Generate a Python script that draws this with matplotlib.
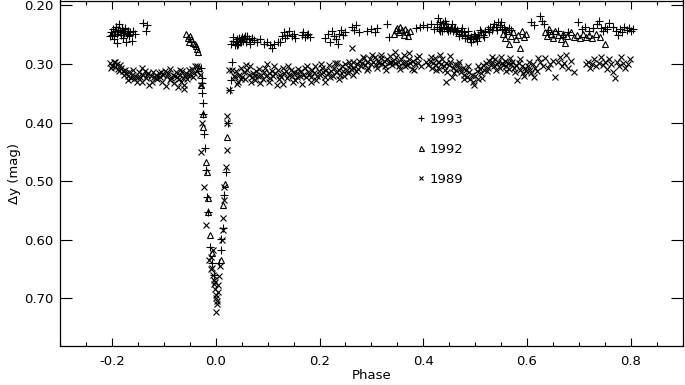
import matplotlib
matplotlib.use("Agg")
import matplotlib.pyplot as plt
from matplotlib.ticker import MultipleLocator, FormatStrFormatter

# ---------------- data ----------------
# 1993 (+)
phase_1993 = [
    -0.205, -0.202, -0.199, -0.197, -0.195, -0.193, -0.191, -0.189, -0.187, -0.185,
    -0.183, -0.181, -0.179, -0.177, -0.175, -0.173, -0.171, -0.169, -0.167, -0.165,
    -0.162, -0.159, -0.156, -0.196, -0.180, -0.141, -0.132, -0.134,
    -0.200, -0.192, -0.184, -0.176, -0.168, -0.190,
    -0.028, -0.027, -0.027, -0.026, -0.025, -0.024, -0.022, -0.021, -0.019, -0.017,
    -0.015, -0.011, -0.007, -0.004,
    0.031, 0.029, 0.027, 0.024, 0.019, 0.016, 0.013, 0.010, 0.009, 0.006,
    0.030, 0.034, 0.036, 0.038, 0.040, 0.042, 0.044, 0.046, 0.048, 0.050,
    0.052, 0.055, 0.058, 0.060, 0.063, 0.066, 0.070, 0.074,
    0.033, 0.041, 0.049, 0.057, 0.065,
    0.080, 0.086, 0.092, 0.098, 0.104, 0.108, 0.112, 0.119, 0.124, 0.128,
    0.131, 0.134, 0.138, 0.142, 0.146, 0.150, 0.153,
    0.166, 0.169, 0.172, 0.175, 0.178, 0.182, 0.210, 0.216, 0.220, 0.224,
    0.228, 0.232, 0.235, 0.238, 0.241, 0.245, 0.249, 0.262, 0.266, 0.270,
    0.276, 0.292, 0.300, 0.306, 0.310, 0.331, 0.333,
    0.386, 0.393, 0.400, 0.407, 0.414, 0.420,
    0.426, 0.428, 0.430, 0.432, 0.434, 0.436, 0.438, 0.440, 0.443, 0.446,
    0.448, 0.451, 0.454, 0.457, 0.460, 0.463, 0.466, 0.469, 0.472, 0.475,
    0.478, 0.481, 0.484, 0.487, 0.490, 0.493, 0.496, 0.499, 0.502, 0.505,
    0.508, 0.512, 0.516, 0.520, 0.524, 0.528, 0.532, 0.536, 0.540, 0.544,
    0.548, 0.552, 0.556, 0.560, 0.565, 0.570,
    0.427, 0.433, 0.441, 0.447, 0.455, 0.462, 0.468, 0.474, 0.480, 0.486,
    0.492, 0.498, 0.504, 0.510, 0.518, 0.526, 0.534, 0.542, 0.550, 0.558,
    0.608, 0.614, 0.626, 0.629, 0.632,
    0.640, 0.650, 0.660, 0.670, 0.680, 0.699, 0.706, 0.712, 0.720, 0.728,
    0.735, 0.738, 0.742, 0.746, 0.750, 0.754, 0.758, 0.766, 0.772, 0.776,
    0.780, 0.784, 0.788, 0.792, 0.796, 0.800, 0.804,
]
dy_1993 = [
    0.252, 0.246, 0.240, 0.252, 0.244, 0.236, 0.248, 0.242, 0.231, 0.245,
    0.250, 0.238, 0.244, 0.247, 0.241, 0.262, 0.249, 0.243, 0.252, 0.246,
    0.260, 0.244, 0.248, 0.258, 0.256, 0.230, 0.234, 0.243,
    0.250, 0.236, 0.246, 0.238, 0.250, 0.264,
    0.307, 0.323, 0.333, 0.350, 0.367, 0.385, 0.420, 0.444, 0.481, 0.527,
    0.552, 0.612, 0.640, 0.660,
    0.297, 0.328, 0.345, 0.400, 0.485, 0.524, 0.580, 0.618, 0.598, 0.640,
    0.266, 0.260, 0.268, 0.262, 0.258, 0.265, 0.256, 0.262, 0.258, 0.254,
    0.260, 0.256, 0.262, 0.252, 0.258, 0.262, 0.255, 0.259,
    0.254, 0.268, 0.262, 0.252, 0.266,
    0.262, 0.258, 0.265, 0.262, 0.268, 0.272, 0.266, 0.263, 0.262, 0.252,
    0.246, 0.256, 0.250, 0.244, 0.252, 0.248, 0.256,
    0.250, 0.246, 0.254, 0.250, 0.248, 0.254, 0.255, 0.248, 0.262, 0.244,
    0.252, 0.258, 0.266, 0.248, 0.242, 0.250, 0.246, 0.236, 0.242, 0.234,
    0.246, 0.244, 0.240, 0.246, 0.238, 0.232, 0.254,
    0.238, 0.236, 0.233, 0.236, 0.232, 0.240,
    0.232, 0.222, 0.240, 0.228, 0.236, 0.244, 0.230, 0.238, 0.232, 0.240,
    0.236, 0.242, 0.238, 0.244, 0.240, 0.246, 0.242, 0.248, 0.244, 0.250,
    0.246, 0.252, 0.256, 0.250, 0.258, 0.254, 0.258, 0.252, 0.256, 0.250,
    0.254, 0.246, 0.250, 0.244, 0.240, 0.236, 0.242, 0.232, 0.236, 0.228,
    0.234, 0.240, 0.236, 0.246, 0.238, 0.242,
    0.236, 0.244, 0.226, 0.244, 0.232, 0.238, 0.252, 0.238, 0.256, 0.244,
    0.262, 0.248, 0.260, 0.242, 0.254, 0.246, 0.236, 0.242, 0.228, 0.242,
    0.229, 0.233, 0.218, 0.226, 0.232,
    0.242, 0.248, 0.244, 0.250, 0.246, 0.229, 0.240, 0.236, 0.244, 0.238,
    0.232, 0.226, 0.238, 0.244, 0.236, 0.240, 0.230, 0.236, 0.244, 0.250,
    0.240, 0.246, 0.236, 0.242, 0.238, 0.244, 0.240,
]

# 1992 (triangles)
phase_1992 = [
    -0.057, -0.054, -0.051, -0.049, -0.047, -0.044, -0.041, -0.039, -0.036, -0.034,
    -0.032, -0.028, -0.025, -0.024, -0.019, -0.018, -0.016, -0.016, -0.011, -0.008,
    0.022, 0.014, 0.010, 0.018,
    0.343, 0.347, 0.350, 0.353, 0.356, 0.359, 0.362, 0.365, 0.368, 0.371, 0.374,
    0.553, 0.558, 0.562, 0.566, 0.570, 0.574, 0.578, 0.582, 0.586, 0.590, 0.594, 0.598,
    0.634, 0.638, 0.642, 0.646, 0.650, 0.655, 0.660, 0.665, 0.670, 0.673,
    0.678, 0.684, 0.690, 0.696, 0.702, 0.708, 0.714, 0.720, 0.726, 0.733,
    0.740, 0.750,
]
dy_1992 = [
    0.248, 0.256, 0.262, 0.252, 0.258, 0.264, 0.266, 0.270, 0.274, 0.280,
    0.306, 0.336, 0.386, 0.408, 0.468, 0.484, 0.529, 0.553, 0.592, 0.623,
    0.425, 0.541, 0.635, 0.505,
    0.248, 0.242, 0.238, 0.246, 0.236, 0.242, 0.250, 0.240, 0.246, 0.252, 0.244,
    0.248, 0.256, 0.244, 0.266, 0.252, 0.246, 0.258, 0.250, 0.272, 0.244, 0.254, 0.248,
    0.246, 0.252, 0.240, 0.248, 0.256, 0.244, 0.250, 0.258, 0.248, 0.264,
    0.252, 0.246, 0.254, 0.250, 0.256, 0.248, 0.254, 0.250, 0.256, 0.248,
    0.254, 0.266,
]

# 1989 (x)
phase_1989 = [
    -0.204, -0.200, -0.197, -0.194, -0.191, -0.188, -0.185, -0.182, -0.179, -0.176,
    -0.173, -0.170, -0.167, -0.164, -0.161, -0.158, -0.155, -0.152, -0.149, -0.146,
    -0.143, -0.140, -0.137, -0.134, -0.131, -0.128, -0.125, -0.122, -0.119, -0.116,
    -0.113, -0.110, -0.107, -0.104, -0.101, -0.098, -0.095, -0.092, -0.089, -0.086,
    -0.083, -0.080, -0.077, -0.075, -0.073, -0.071, -0.069, -0.067, -0.065, -0.063,
    -0.061, -0.059, -0.057, -0.055, -0.052, -0.049, -0.046, -0.043, -0.040, -0.037,
    -0.203, -0.195, -0.186, -0.178, -0.169, -0.160, -0.151, -0.142, -0.133, -0.124,
    -0.115, -0.106, -0.097, -0.088, -0.079, -0.070, -0.062, -0.054, -0.045, -0.036,
    -0.030, -0.028, -0.026, -0.028, -0.022, -0.019, -0.013, -0.010, -0.009, -0.007,
    -0.006, -0.004, -0.003, -0.002, 0.000, 0.001, 0.002, 0.001, -0.005, -0.001,
    0.026, 0.026, 0.022, 0.022, 0.022, 0.020, 0.016, 0.015, 0.013, 0.013,
    0.011, 0.008, 0.006, 0.005, 0.004, 0.003, 0.032, 0.035,
    0.036, 0.039, 0.042, 0.045, 0.048, 0.051, 0.054, 0.057, 0.060, 0.063,
    0.066, 0.069, 0.072, 0.075, 0.078, 0.081, 0.084, 0.087, 0.090, 0.093,
    0.096, 0.099, 0.102, 0.105, 0.108, 0.111, 0.114, 0.117, 0.120, 0.123,
    0.126, 0.129, 0.132, 0.135, 0.138, 0.141, 0.144, 0.147, 0.150, 0.153,
    0.156, 0.159, 0.162, 0.165, 0.168, 0.171, 0.174, 0.177, 0.180, 0.183,
    0.186, 0.189, 0.192, 0.195, 0.198, 0.201, 0.204, 0.207, 0.210, 0.213,
    0.216, 0.219, 0.222, 0.225, 0.228, 0.231, 0.234, 0.237, 0.240, 0.243,
    0.246, 0.249, 0.252, 0.255, 0.258, 0.263, 0.261, 0.264, 0.267, 0.270,
    0.273, 0.276, 0.279, 0.282, 0.285, 0.288, 0.291, 0.294, 0.297, 0.300,
    0.303, 0.306, 0.309, 0.312, 0.315, 0.318, 0.321, 0.324, 0.327, 0.330,
    0.333, 0.336, 0.339, 0.342, 0.345, 0.348, 0.351, 0.354, 0.357, 0.360,
    0.363, 0.366, 0.369, 0.372, 0.375, 0.378, 0.381, 0.384, 0.387, 0.390,
    0.395, 0.405, 0.410, 0.413, 0.416, 0.419, 0.422, 0.425, 0.428, 0.431,
    0.434, 0.437, 0.440, 0.443, 0.446, 0.449, 0.452, 0.455, 0.458, 0.461,
    0.464, 0.467, 0.470, 0.473, 0.476, 0.479, 0.482, 0.485, 0.488, 0.491,
    0.494, 0.497, 0.500, 0.503, 0.506, 0.509, 0.512, 0.515, 0.518, 0.521,
    0.524, 0.527, 0.530, 0.533, 0.536, 0.539, 0.542, 0.545, 0.548, 0.551,
    0.554, 0.557, 0.560, 0.563, 0.566, 0.569, 0.572, 0.575, 0.578, 0.581,
    0.584, 0.587, 0.590, 0.593, 0.596, 0.599, 0.602, 0.605, 0.608, 0.612,
    0.616, 0.620, 0.625, 0.630, 0.635, 0.640, 0.645, 0.650, 0.655, 0.660,
    0.664, 0.668, 0.672, 0.676, 0.680, 0.685, 0.690, 0.444,
    0.040, 0.049, 0.058, 0.067, 0.076, 0.085, 0.094, 0.103, 0.112, 0.121,
    0.130, 0.139, 0.148, 0.157, 0.166, 0.175, 0.184, 0.193, 0.202, 0.211,
    0.220, 0.229, 0.238, 0.247, 0.256, 0.265, 0.274, 0.283, 0.292, 0.301,
    0.310, 0.319, 0.328, 0.337, 0.346, 0.355, 0.364, 0.373, 0.382, 0.391,
    0.415, 0.424, 0.433, 0.442, 0.451, 0.460, 0.469, 0.478, 0.487, 0.496,
    0.505, 0.514, 0.523, 0.532, 0.541, 0.550, 0.559, 0.568, 0.577, 0.586,
    0.595, 0.604, 0.613, 0.622,
    0.714, 0.718, 0.722, 0.726, 0.730, 0.734, 0.738, 0.742, 0.746, 0.750,
    0.754, 0.758, 0.762, 0.766, 0.770, 0.774, 0.778, 0.782, 0.786, 0.790,
    0.794, 0.798,
]
dy_1989 = [
    0.298, 0.303, 0.296, 0.305, 0.300, 0.308, 0.302, 0.306, 0.312, 0.310,
    0.316, 0.320, 0.314, 0.324, 0.318, 0.326, 0.320, 0.330, 0.314, 0.322,
    0.306, 0.318, 0.312, 0.324, 0.316, 0.336, 0.320, 0.314, 0.322, 0.318,
    0.326, 0.316, 0.322, 0.330, 0.318, 0.312, 0.320, 0.316, 0.308, 0.324,
    0.318, 0.332, 0.314, 0.322, 0.340, 0.326, 0.318, 0.330, 0.312, 0.324,
    0.336, 0.320, 0.316, 0.326, 0.310, 0.318, 0.308, 0.316, 0.304, 0.312,
    0.306, 0.297, 0.312, 0.318, 0.328, 0.310, 0.322, 0.330, 0.318, 0.330,
    0.324, 0.314, 0.338, 0.328, 0.320, 0.310, 0.342, 0.318, 0.322, 0.304,
    0.318, 0.335, 0.401, 0.451, 0.510, 0.575, 0.635, 0.630, 0.650, 0.648,
    0.660, 0.668, 0.676, 0.685, 0.695, 0.700, 0.710, 0.723, 0.618, 0.672,
    0.311, 0.345, 0.388, 0.401, 0.447, 0.476, 0.510, 0.532, 0.563, 0.583,
    0.600, 0.645, 0.662, 0.678, 0.690, 0.705, 0.311, 0.320,
    0.322, 0.312, 0.330, 0.318, 0.306, 0.322, 0.314, 0.326, 0.310, 0.318,
    0.304, 0.322, 0.316, 0.328, 0.312, 0.320, 0.308, 0.318, 0.326, 0.314,
    0.320, 0.300, 0.316, 0.324, 0.312, 0.320, 0.316, 0.336, 0.310, 0.318,
    0.322, 0.306, 0.316, 0.312, 0.324, 0.318, 0.310, 0.320, 0.314, 0.328,
    0.316, 0.308, 0.320, 0.312, 0.318, 0.306, 0.322, 0.314, 0.318, 0.330,
    0.310, 0.316, 0.304, 0.320, 0.312, 0.318, 0.306, 0.314, 0.322, 0.310,
    0.316, 0.302, 0.312, 0.320, 0.306, 0.314, 0.298, 0.310, 0.318, 0.304,
    0.312, 0.300, 0.310, 0.316, 0.302, 0.273, 0.308, 0.296, 0.306, 0.312,
    0.300, 0.294, 0.304, 0.298, 0.290, 0.302, 0.296, 0.306, 0.292, 0.300,
    0.296, 0.288, 0.302, 0.294, 0.298, 0.290, 0.300, 0.294, 0.304, 0.292,
    0.298, 0.286, 0.302, 0.294, 0.298, 0.288, 0.296, 0.304, 0.292, 0.298,
    0.284, 0.296, 0.302, 0.292, 0.298, 0.308, 0.294, 0.300, 0.290, 0.298,
    0.304, 0.296, 0.302, 0.294, 0.306, 0.298, 0.290, 0.302, 0.296, 0.308,
    0.300, 0.292, 0.304, 0.298, 0.314, 0.302, 0.296, 0.322, 0.306, 0.300,
    0.310, 0.302, 0.308, 0.314, 0.306, 0.318, 0.310, 0.322, 0.314, 0.326,
    0.318, 0.336, 0.320, 0.312, 0.326, 0.308, 0.316, 0.302, 0.310, 0.298,
    0.306, 0.294, 0.302, 0.296, 0.304, 0.292, 0.300, 0.296, 0.306, 0.298,
    0.302, 0.294, 0.304, 0.298, 0.308, 0.300, 0.296, 0.306, 0.302, 0.328,
    0.298, 0.310, 0.304, 0.316, 0.306, 0.312, 0.304, 0.310, 0.316, 0.300,
    0.306, 0.312, 0.296, 0.304, 0.290, 0.306, 0.300, 0.294, 0.322, 0.296,
    0.288, 0.304, 0.298, 0.284, 0.306, 0.294, 0.314, 0.330,
    0.334, 0.326, 0.302, 0.330, 0.320, 0.332, 0.306, 0.330, 0.304, 0.326,
    0.334, 0.304, 0.330, 0.322, 0.334, 0.304, 0.322, 0.328, 0.300, 0.330,
    0.322, 0.298, 0.326, 0.320, 0.296, 0.318, 0.308, 0.288, 0.310, 0.284,
    0.306, 0.284, 0.310, 0.296, 0.280, 0.308, 0.304, 0.282, 0.310, 0.286,
    0.288, 0.310, 0.284, 0.310, 0.286, 0.316, 0.296, 0.326, 0.304, 0.330,
    0.304, 0.324, 0.312, 0.288, 0.310, 0.288, 0.312, 0.290, 0.314, 0.292,
    0.320, 0.296, 0.322, 0.290,
    0.300, 0.296, 0.306, 0.300, 0.292, 0.304, 0.298, 0.288, 0.302, 0.296,
    0.308, 0.292, 0.300, 0.314, 0.324, 0.296, 0.304, 0.288, 0.298, 0.306,
    0.300, 0.292,
]

labels = ["1993", "1992", "1989"]
x_ticks = [-0.2, 0.0, 0.2, 0.4, 0.6, 0.8]
y_ticks = [0.20, 0.30, 0.40, 0.50, 0.60, 0.70]

# ---------------- figure ----------------
plt.rcParams['font.family'] = ['DejaVu Sans']
fig = plt.figure(figsize=(6.85, 3.85), dpi=100)
ax = fig.add_axes([60.3 / 685, 1 - 346 / 385, 622.2 / 685, 345.5 / 385])

kw = dict(linestyle='none', color='black', mfc='none', mew=0.8)
ax.plot(phase_1993, dy_1993, marker='+', markersize=5.5, label=labels[0], **kw)
ax.plot(phase_1992, dy_1992, marker='^', markersize=4.5, label=labels[1], **kw)
ax.plot(phase_1989, dy_1989, marker='x', markersize=4.3, label=labels[2], **kw)

ax.set_xlim(-0.3, 0.9)
ax.set_ylim(0.7815, 0.1915)
ax.set_xticks(x_ticks)
ax.xaxis.set_major_formatter(FormatStrFormatter('%.1f'))
ax.xaxis.set_minor_locator(MultipleLocator(0.05))
ax.set_yticks(y_ticks)
ax.yaxis.set_major_formatter(FormatStrFormatter('%.2f'))

ax.tick_params(axis='x', which='major', direction='in', length=5.5, width=0.8,
               top=True, bottom=True, labelsize=9.5, pad=6.5)
ax.tick_params(axis='x', which='minor', direction='in', length=2.8, width=0.8,
               top=True, bottom=True)
ax.tick_params(axis='y', which='major', direction='in', length=8.5, width=0.8,
               left=True, right=True, labelsize=9.5, pad=5)
for s in ax.spines.values():
    s.set_linewidth(0.9)

ax.set_xlabel("Phase", fontsize=9.5, labelpad=1)
ax.set_ylabel("Δy (mag)", fontsize=9.5, labelpad=2.5)

ax.legend(loc='upper left', bbox_to_anchor=(0.5715, 0.675), frameon=False,
          fontsize=9.5, handlelength=0.8, handletextpad=0.2, labelspacing=1.28,
          borderpad=0, borderaxespad=0, markerscale=0.8, numpoints=1)

fig.savefig("out.png", dpi=100)
